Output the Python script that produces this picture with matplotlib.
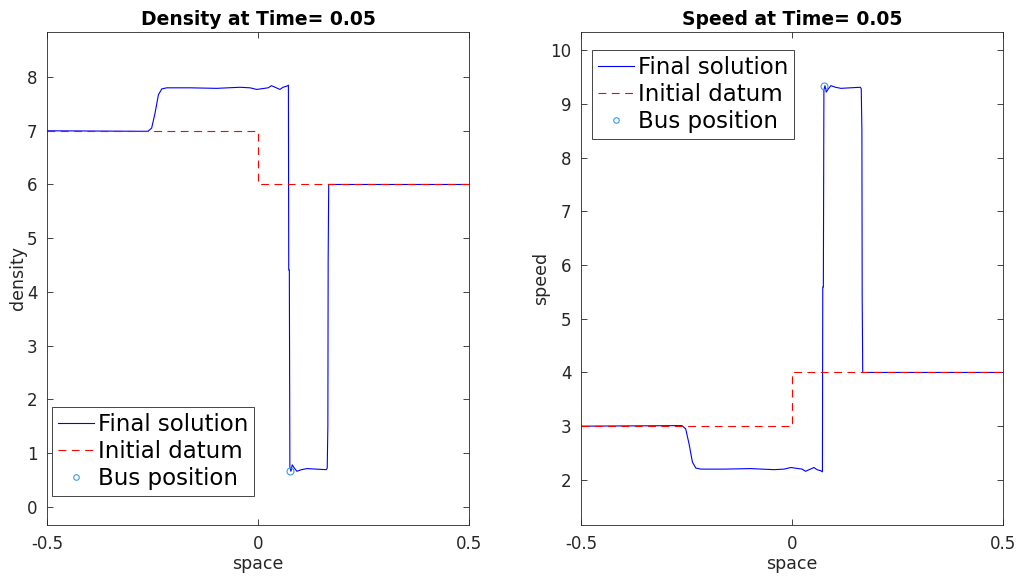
import matplotlib
matplotlib.use('Agg')
import matplotlib.pyplot as plt

# Densidade final
x_final = [-0.5, -0.261, -0.252, -0.244, -0.236, -0.228, -0.216, -0.161, -0.098,
           -0.043, -0.019, -0.003, 0.024, 0.032, 0.052, 0.059, 0.068, 0.072,
           0.0728, 0.0742, 0.0755, 0.078, 0.081, 0.086, 0.092, 0.103, 0.116,
           0.138, 0.162, 0.164, 0.1655, 0.1662, 0.1675, 0.5]
rho_final = [7.0, 6.99, 7.05, 7.33, 7.67, 7.78, 7.80, 7.80, 7.79,
             7.81, 7.80, 7.77, 7.80, 7.84, 7.77, 7.81, 7.83, 7.85,
             4.41, 4.41, 0.74, 0.66, 0.78, 0.72, 0.66, 0.69, 0.71,
             0.70, 0.69, 0.72, 1.5, 4.6, 6.0, 6.0]
# Velocidade final
v_final = [3.0, 3.01, 2.95, 2.67, 2.33, 2.22, 2.20, 2.20, 2.21,
           2.19, 2.20, 2.23, 2.20, 2.16, 2.23, 2.19, 2.17, 2.15,
           5.59, 5.59, 9.26, 9.34, 9.22, 9.28, 9.34, 9.31, 9.29,
           9.30, 9.31, 9.28, 8.5, 5.4, 4.0, 4.0]

# Dado inicial
x_init = [-0.5, 0.0, 0.0, 0.5]
rho_init = [7, 7, 6, 6]
v_init = [3, 3, 4, 4]

# Posicao do onibus
bus_x = [0.076]
bus_rho = [0.66]
bus_v = [9.34]

cor_eixo = '#262626'
plt.rcParams['font.family'] = 'DejaVu Sans'

fig = plt.figure(figsize=(10.17, 5.79), dpi=100)
ax1 = fig.add_axes([0.0462, 0.0933, 0.415, 0.8515])
ax2 = fig.add_axes([0.5713, 0.0933, 0.415, 0.8515])

def desenha(ax, y_final, y_init, y_bus, titulo, ylab, ylim, yticks, loc, ancora):
    ax.plot(x_final, y_final, color='#0000ff', lw=0.8, label='Final solution')
    ax.plot(x_init, y_init, color='#ff0000', lw=0.8, ls=(0, (7, 5)), label='Initial datum')
    ax.plot(bus_x, y_bus, ls='none', marker='o', ms=5, mfc='none',
            mec='#3d9be0', mew=0.8, label='Bus position')
    ax.set_xlim(-0.5, 0.5)
    ax.set_ylim(*ylim)
    ax.set_xticks([-0.5, 0, 0.5])
    ax.set_xticklabels(['-0.5', '0', '0.5'])
    ax.set_yticks(yticks)
    ax.tick_params(direction='in', length=4, width=0.6, top=True, right=True,
                   labelsize=12, colors=cor_eixo, pad=7)
    for s in ax.spines.values():
        s.set_color(cor_eixo)
        s.set_linewidth(0.6)
    ax.set_title(titulo, fontsize=13.5, fontweight='bold', pad=5)
    ax.set_xlabel('space', fontsize=12.5, color=cor_eixo, labelpad=2)
    ax.set_ylabel(ylab, fontsize=12.5, color=cor_eixo, labelpad=0)
    leg = ax.legend(loc=loc, bbox_to_anchor=ancora, fontsize=16.5, fancybox=False,
                    framealpha=1, edgecolor=cor_eixo, handlelength=1.6,
                    handletextpad=0.15, borderpad=0.25, labelspacing=0.18,
                    borderaxespad=0, markerscale=0.8)
    leg.get_frame().set_linewidth(0.6)

desenha(ax1, rho_final, rho_init, bus_rho, 'Density at Time= 0.05', 'density',
        (-0.34, 8.84), range(0, 9), 'lower left', (0.012, 0.059))
desenha(ax2, v_final, v_init, bus_v, 'Speed at Time= 0.05', 'speed',
        (1.16, 10.34), range(2, 11), 'upper left', (0.026, 0.963))

fig.savefig('out.png', dpi=100)
